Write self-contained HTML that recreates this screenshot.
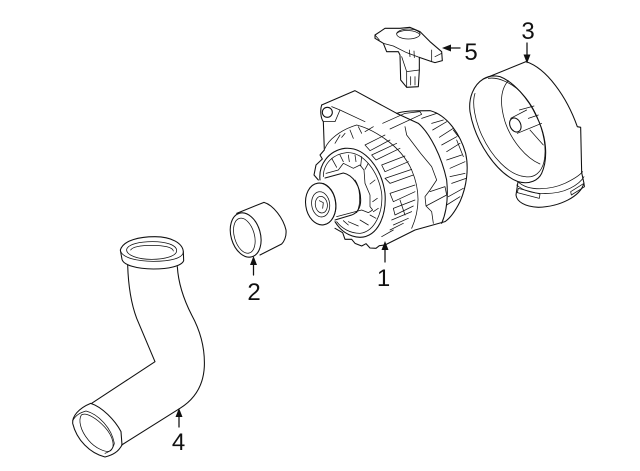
<!DOCTYPE html>
<html><head><meta charset="utf-8"><style>
html,body{margin:0;padding:0;background:#fff}
svg{display:block}
text{font-family:"Liberation Sans",sans-serif;font-size:24px;fill:#111;text-anchor:middle}
.l{fill:none;stroke:#111;stroke-width:1.25;stroke-linejoin:round;stroke-linecap:round}
.z{fill:none;stroke:#111;stroke-width:3.2;stroke-linejoin:round;stroke-linecap:round}
.t{stroke-width:2.3}
</style></head><body>
<svg width="640" height="471" viewBox="0 0 640 471" xmlns="http://www.w3.org/2000/svg">
<rect width="640" height="471" fill="#fff"/>

<!-- part 4 hose + part 2 (zoom origin 60,190) -->
<g transform="translate(60,190) scale(.33333)">
 <path class="z" d="M203 225C205 290 215 345 230 385L285 515L95 640"/>
 <path class="z" d="M352 230C355 280 372 330 395 375C425 430 435 480 433 530C430 590 400 630 360 655L185 765"/>
 <path class="z" d="M181 180C190 150 240 140 285 140C335 140 368 160 370 185L371 212C365 228 325 237 280 237C230 237 190 225 186 208Z"/>
 <path class="z t" d="M181 180C185 205 235 214 280 214C330 214 370 205 370 185"/>
 <path class="z t" d="M200 178C205 162 240 155 278 155C318 155 350 165 350 182C350 198 315 208 275 208C235 208 198 196 200 178Z"/>
 <path class="z t" d="M212 180C218 170 245 166 278 166C312 166 338 172 340 183"/>
 <path class="z" d="M92 640C125 650 165 690 183 725L186 765C175 785 160 795 135 801C90 790 50 750 38 700C36 680 55 655 92 640Z"/>
 <path class="z t" d="M38 692C48 675 60 668 78 663C115 672 155 715 163 760C160 775 150 785 135 790"/>
 <path class="z t" d="M64 675C55 690 60 720 85 750C105 775 140 790 152 782C166 770 160 740 135 712C110 685 78 665 64 675Z"/>
 <!-- part 2 -->
 <path class="z" d="M530 70L612 37C640 45 670 85 678 120C680 140 672 155 665 162L600 195"/>
 <ellipse class="z" cx="557" cy="135" rx="44" ry="68" transform="rotate(-16 557 135)"/>
 <ellipse class="z t" cx="553" cy="137" rx="30" ry="54" transform="rotate(-16 553 137)"/>
</g>

<!-- alternator (zoom origin 290,80) -->
<g transform="translate(290,80) scale(.33333)">
 <path class="z" d="M95 75L195 32L320 100C345 92 375 92 420 92C470 105 510 160 527 220C537 265 530 320 510 365C495 395 480 415 465 425L375 450L285 495L268 497L258 505L240 504L228 491L215 498L195 490L185 478L165 478L158 458L135 445"/>
 <path class="z" d="M95 75C90 90 92 115 100 125L103 210L90 225L97 237L78 255L72 285L85 300"/>
 <circle class="z" cx="112" cy="97" r="15"/>
 <path class="z t" d="M125 80L150 90L135 125L100 125M150 90L225 125"/>
 <path class="z t" d="M105 205C115 180 150 150 200 135C240 145 330 190 365 270C395 340 385 400 365 445"/>
 <path class="z" d="M320 100L385 130C420 160 455 230 470 300C475 350 470 395 455 430"/>
 <path class="z t" d="M278 130L345 100L390 95L395 103L300 147M345 140L350 165L392 220L425 260L440 300L420 330L405 350L408 378L470 345L465 320L420 335M408 378L425 395L430 430"/>
 <path class="z t" d="M395 115L440 100M425 130L460 120M428 150L470 125M448 172L490 145M455 195L500 170M470 215L510 190M470 240L515 225M480 265L525 245M480 290L525 280M485 310L528 295M475 350L520 325M470 375L510 350M505 170L490 150M520 230L500 180"/>
 <path class="z t" d="M225 195L285 165M240 212L300 180M245 225L320 190M258 240L330 205M275 255L345 228M285 275L355 245M285 295L365 268M300 310L370 285M300 340L375 315M310 365L375 335M310 385L375 360M315 405L370 378M305 420L365 395M310 435L355 415M225 195L240 212M245 225L258 240M275 255L285 275M285 295L300 310M300 340L310 365M310 385L315 405"/>
 <path class="z t" d="M135 190L150 165M155 172L165 160M180 150L190 175M205 140L215 160M250 140L225 155M330 360L345 405M300 450L340 430M275 470L310 450"/>
 <!-- rotor disc -->
 <path class="z" d="M90 300C85 255 115 212 165 205C225 200 275 265 285 340C290 405 265 470 210 472C175 470 150 450 135 425"/>
 <path class="z t" d="M100 290C100 250 130 222 170 218C220 215 265 275 275 340C280 395 255 455 210 460C180 460 155 445 140 425"/>
 <path class="z t" d="M108 280L145 270L160 250L190 265L210 255L222 270L225 310L240 345L240 380L248 390L235 398L215 390L140 410"/>
 <path class="z t" d="M125 235L140 262M150 225L160 245M175 225L178 245M195 225L198 245M215 230L212 258M235 250L225 268M255 300L240 312M262 355L248 365M265 385L250 395M258 415L240 405M235 435L210 420M205 438L175 425M175 435L160 422"/>
 <!-- hub -->
 <path class="z" d="M105 294L160 279C190 285 212 320 212 360C212 385 200 400 185 405L135 420"/>
 <path class="z t" d="M195 300C210 320 215 370 200 398"/>
 <!-- pulley -->
 <ellipse class="z" cx="92" cy="372" rx="45" ry="63" transform="rotate(-8 92 372)"/>
 <path class="z t" d="M100 310C125 320 140 350 138 385C135 410 122 430 105 433"/>
 <ellipse class="z t" cx="92" cy="373" rx="27" ry="38" transform="rotate(-8 92 373)"/>
 <ellipse class="z t" cx="94" cy="374" rx="18" ry="25" transform="rotate(-8 94 374)"/>
 <path class="z t" d="M88 362L100 368L98 385"/>
</g>

<!-- part 5 (zoom origin 370,20) -->
<g transform="translate(370,20) scale(.33333)">
 <path class="z" d="M15 45L45 25L90 25L120 22L150 35L180 65L215 95L217 122L195 128L185 125L148 112L148 150L145 200L110 202L92 180L90 105L85 95L50 95L40 70L15 55Z"/>
 <ellipse class="z t" cx="115" cy="42" rx="35" ry="15"/>
 <path class="z t" d="M80 40C95 28 135 28 150 44M15 45L28 60M40 70L70 78L110 98L148 112M118 90L120 110M132 93L133 113M185 90L185 125M195 110L215 100M95 110L110 155L148 150M110 155L110 202M122 170L122 195M135 170L135 195"/>
</g>

<!-- part 3 (zoom origin 360,10) -->
<g transform="translate(360,10) scale(.33333)">
 <path class="z" d="M370 207L498 155C560 175 620 260 652 350L662 352L665 488L672 520C660 560 600 590 535 592C495 590 470 575 468 555L474 515"/>
 <path class="z" d="M370 207C340 225 325 265 330 305C345 395 410 490 474 515C510 525 535 510 545 490C565 445 560 380 530 320C505 265 460 215 420 200C400 195 385 198 370 207Z"/>
 <path class="z t" d="M345 250C335 280 345 330 365 375C395 440 445 495 495 500C525 505 545 485 552 455C565 395 535 305 490 255C460 220 415 200 385 205"/>
 <path class="z t" d="M445 212C420 240 420 285 435 335C455 395 500 445 540 462"/>
 <path class="z t" d="M478 300L522 288M452 325L500 300M472 370L545 340M505 325L535 315M510 360L550 405"/>
 <ellipse class="z" cx="466" cy="345" rx="16" ry="22" transform="rotate(-25 466 345)"/>
 <path class="z t" d="M474 515C505 545 570 540 615 520C640 508 660 495 668 485M470 525C510 560 590 555 630 535C650 525 665 512 672 500"/>
 <path class="z t" d="M475 535L540 552L538 565L472 548ZM632 545L672 520L674 530L634 555Z"/>
</g>

<!-- arrows -->
<path class="l" d="M385 262V248M253.500 275V262M527 43V58M179 427V413M460 48H447"/>
<path fill="#111" d="M385 241L381.500 250H388.500ZM253.500 256L250 265H257ZM527 63.500L523.500 54.500H530.500ZM179 408L175.500 417H182.500ZM442 48L451 44.500V51.500Z"/>

<text x="383.500" y="286">1</text>
<text x="254" y="300">2</text>
<text x="528" y="39">3</text>
<text x="178.500" y="450">4</text>
<text x="471" y="60">5</text>
</svg>
</body></html>
